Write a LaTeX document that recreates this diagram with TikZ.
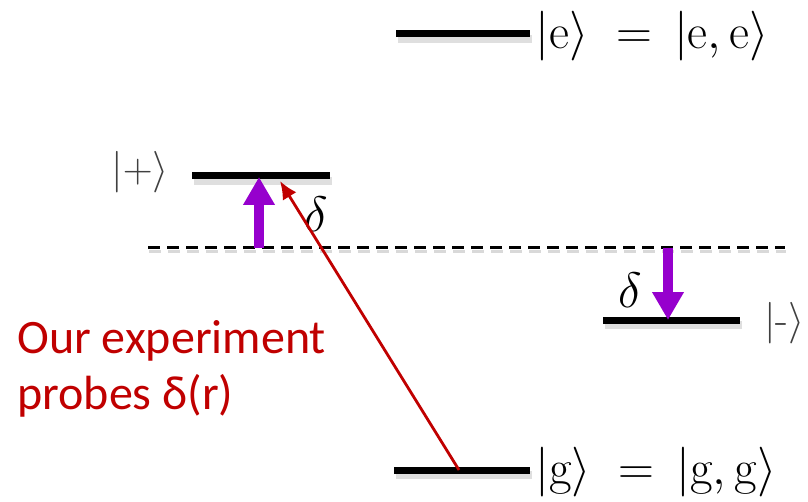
\documentclass[tikz,border=0pt]{standalone}
\usepackage{fontspec}
\newfontfamily\calib{Carlito}
\usetikzlibrary{arrows.meta}
\definecolor{pviolet}{RGB}{150,0,205}
\definecolor{dred}{RGB}{192,0,0}
\begin{document}
\begin{tikzpicture}[x=0.5pt,y=-0.5pt,
  level/.style={line width=3.5pt,black},
  shadowline/.style={line width=4pt,black!25,opacity=0.5},
  ket/.style={inner sep=0pt,anchor=west,font=\fontsize{24.5}{28}\selectfont},
  smallket/.style={inner sep=0pt,font=\fontsize{21}{24}\selectfont,text=black!75},
  dlabel/.style={inner sep=0pt,font=\fontsize{26}{30}\selectfont},
  parrow/.style={line width=5pt,pviolet,-{Triangle[width=15pt,length=14pt]}},
  rarrow/.style={line width=1.4pt,dred,-{Latex[length=9pt,width=8pt]}}]
\useasboundingbox (0,0) rectangle (808,502);
% shadows
\draw[shadowline] (398,39) -- (532,39);
\draw[shadowline] (194,181) -- (332,181);
\draw[shadowline] (605,325) -- (742,325);
\draw[shadowline] (396,475) -- (532,475);
\draw[line width=1.5pt,black!15,dash pattern=on 6pt off 3.5pt] (149,252) -- (786,252);
% levels
\coordinate (e1) at (396,34); \coordinate (e2) at (530,34);
\coordinate (p1) at (192,176); \coordinate (p2) at (330,176);
\coordinate (m1) at (603,320); \coordinate (m2) at (740,320);
\coordinate (g1) at (394,470); \coordinate (g2) at (530,470);
\coordinate (d1) at (148,248); \coordinate (d2) at (785,248);
\draw[level] (e1) -- (e2);
\draw[level] (p1) -- (p2);
\draw[level] (m1) -- (m2);
\draw[level] (g1) -- (g2);
\draw[line width=1.5pt,black,dash pattern=on 6pt off 3.5pt] (d1) -- (d2);
% labels
\node[ket] (elab) at (535,36) {$|\mathrm{e}\rangle\;=\,|\mathrm{e},\mathrm{e}\rangle$};
\node[ket] (glab) at (535,472) {$|\mathrm{g}\rangle\;=\,|\mathrm{g},\mathrm{g}\rangle$};
\node[smallket] (plab) at (140,172) {$|{+}\rangle$};
\node[smallket,anchor=west] (mlab) at (764,323) {$|\mbox{-}\rangle$};
% purple arrows
\coordinate (ua) at (259,248); \coordinate (ub) at (259,177);
\coordinate (da) at (668,248); \coordinate (db) at (668,320);
\draw[parrow] (ua) -- (ub);
\draw[parrow] (da) -- (db);
\node[dlabel] (dl1) at (316,214) {$\delta$};
\node[dlabel] (dl2) at (630,290) {$\delta$};
% red arrow
\coordinate (rs) at (459,470); \coordinate (rt) at (280,181);
\draw[rarrow] (rs) -- (rt);
\node[inner sep=0pt,anchor=north west,align=left,text=dred,font=\calib\fontsize{24}{28}\selectfont] (txt) at (17,320) {Our experiment\\probes δ(r)};
\end{tikzpicture}
\end{document}
